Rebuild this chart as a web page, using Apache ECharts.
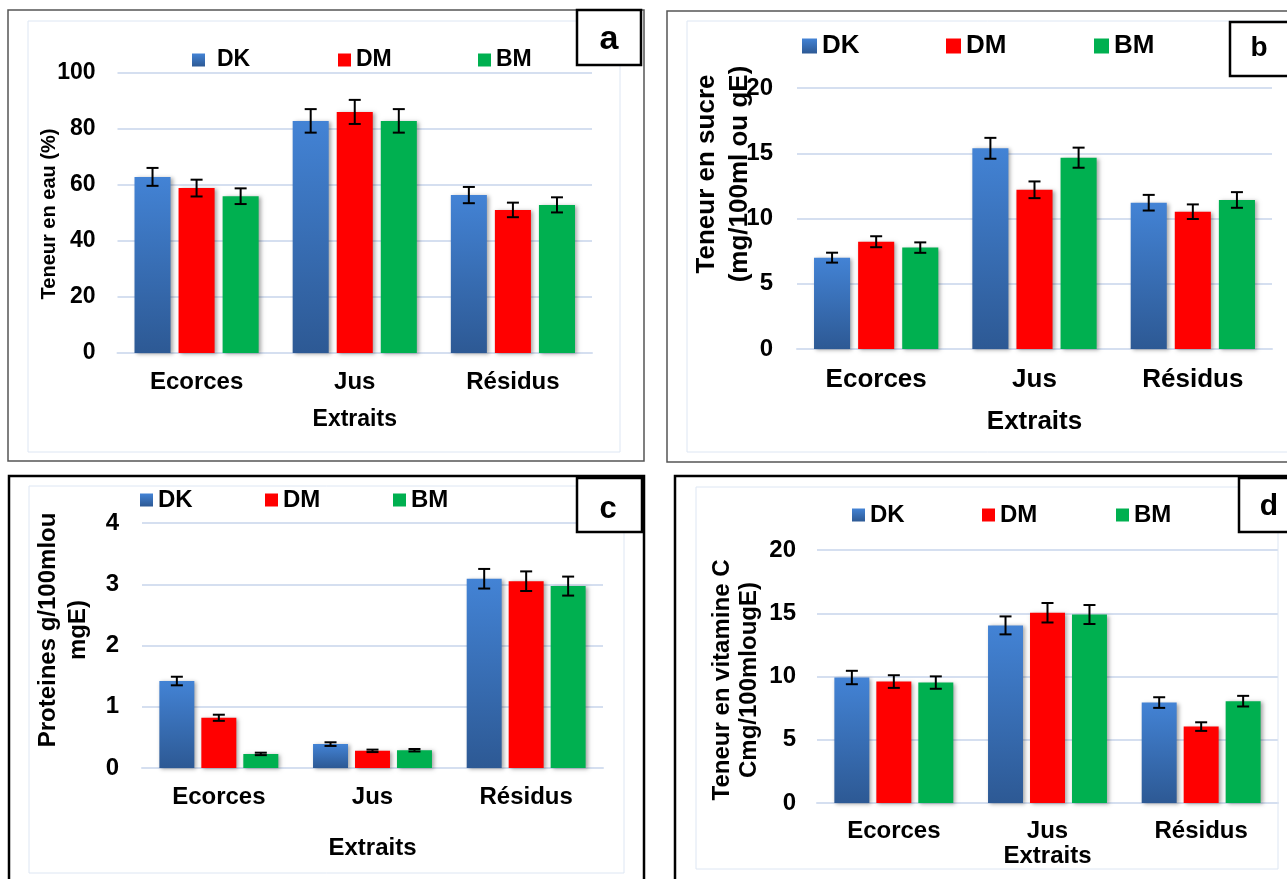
<!DOCTYPE html>
<html>
<head>
<meta charset="utf-8">
<script src="https://cdn.jsdelivr.net/npm/echarts@6/dist/echarts.min.js"></script>
<style>
html,body{margin:0;padding:0;background:#fff;}
#chart{width:1287px;height:879px;}
</style>
</head>
<body>
<div id="chart"></div>
<script>
// ---------- data ----------
const categories = ['Ecorces', 'Jus', 'Résidus'];
const seriesNames = ['DK', 'DM', 'BM'];

// (a) Teneur en eau (%)
const eauDK = [62.9, 82.9, 56.4];
const eauDKErr = [3.2, 4.2, 2.9];
const eauDM = [58.9, 86.1, 51.1];
const eauDMErr = [3.0, 4.3, 2.6];
const eauBM = [56.0, 82.9, 52.9];
const eauBMErr = [2.8, 4.2, 2.7];
const eauTicks = [0, 20, 40, 60, 80, 100];

// (b) Teneur en sucre
const sucreDK = [7.0, 15.38, 11.21];
const sucreDKErr = [0.38, 0.8, 0.6];
const sucreDM = [8.22, 12.2, 10.52];
const sucreDMErr = [0.42, 0.64, 0.56];
const sucreBM = [7.77, 14.66, 11.42];
const sucreBMErr = [0.4, 0.77, 0.6];
const sucreTicks = [0, 5, 10, 15, 20];

// (c) Proteines
const protDK = [1.42, 0.39, 3.09];
const protDKErr = [0.07, 0.03, 0.16];
const protDM = [0.82, 0.28, 3.05];
const protDMErr = [0.05, 0.02, 0.16];
const protBM = [0.23, 0.29, 2.97];
const protBMErr = [0.02, 0.02, 0.155];
const protTicks = [0, 1, 2, 3, 4];

// (d) Vitamine C
const vitDK = [9.92, 14.04, 7.94];
const vitDKErr = [0.53, 0.71, 0.42];
const vitDM = [9.6, 15.04, 6.04];
const vitDMErr = [0.5, 0.77, 0.34];
const vitBM = [9.52, 14.9, 8.05];
const vitBMErr = [0.49, 0.75, 0.42];
const vitTicks = [0, 5, 10, 15, 20];

// ---------- styling ----------
const FONT = '"Liberation Sans", Arial, sans-serif';
const blueGrad = new echarts.graphic.LinearGradient(0, 0, 0, 1, [
  { offset: 0, color: '#4383d5' },
  { offset: 1, color: '#2d5994' }
]);
const colors = [blueGrad, '#ff0000', '#00b050'];

const panels = [
  { vals: [eauDK, eauDM, eauBM], errs: [eauDKErr, eauDMErr, eauBMErr], ticks: eauTicks,
    grid: { left: 117.5, top: 73, width: 474.5, height: 280 },
    cGap: 0.215, bGap: 0.222, tickFont: 23, tickMargin: 22, labFont: 24, labMargin: 17, nameFont: 23, nameGap: 55 },
  { vals: [sucreDK, sucreDM, sucreBM], errs: [sucreDKErr, sucreDMErr, sucreBMErr], ticks: sucreTicks,
    grid: { left: 797, top: 88, width: 475, height: 261 },
    cGap: 0.215, bGap: 0.222, tickFont: 24, tickMargin: 24, labFont: 26, labMargin: 18, nameFont: 26, nameGap: 60 },
  { vals: [protDK, protDM, protBM], errs: [protDKErr, protDMErr, protBMErr], ticks: protTicks,
    grid: { left: 142, top: 523, width: 461, height: 245 },
    cGap: 0.226, bGap: 0.2, tickFont: 24, tickMargin: 23, labFont: 24, labMargin: 17, nameFont: 24, nameGap: 68 },
  { vals: [vitDK, vitDM, vitBM], errs: [vitDKErr, vitDMErr, vitBMErr], ticks: vitTicks,
    grid: { left: 817, top: 550, width: 461, height: 253 },
    cGap: 0.226, bGap: 0.2, tickFont: 24, tickMargin: 21, labFont: 24, labMargin: 16, nameFont: 24, nameGap: 36 }
];

const grids = [], xAxes = [], yAxes = [], series = [];
panels.forEach((p, gi) => {
  grids.push(Object.assign({ containLabel: false }, p.grid));
  xAxes.push({
    type: 'category', gridIndex: gi, data: categories,
    name: 'Extraits', nameLocation: 'middle', nameGap: p.nameGap,
    nameTextStyle: { fontFamily: FONT, fontWeight: 'bold', fontSize: p.nameFont, color: '#000' },
    axisLine: { show: true, lineStyle: { color: '#d5dff0', width: 2 } },
    axisTick: { show: false },
    axisLabel: { fontFamily: FONT, fontWeight: 'bold', fontSize: p.labFont, color: '#000', margin: p.labMargin }
  });
  const t = p.ticks;
  yAxes.push({
    type: 'value', gridIndex: gi, min: t[0], max: t[t.length - 1], interval: t[1] - t[0],
    axisLine: { show: false }, axisTick: { show: false },
    splitLine: { lineStyle: { color: '#d5dff0', width: 2 } },
    axisLabel: { fontFamily: FONT, fontWeight: 'bold', fontSize: p.tickFont, color: '#000', margin: p.tickMargin }
  });
  seriesNames.forEach((nm, si) => {
    series.push({
      type: 'bar', name: nm, xAxisIndex: gi, yAxisIndex: gi,
      data: p.vals[si], barGap: (p.bGap * 100) + '%', barCategoryGap: (p.cGap * 100) + '%',
      itemStyle: { color: colors[si], shadowBlur: 4, shadowColor: 'rgba(0,0,0,0.35)', shadowOffsetX: 2, shadowOffsetY: 1 },
      emphasis: { disabled: true }
    });
  });
  const errData = [];
  seriesNames.forEach((nm, si) => {
    p.vals[si].forEach((v, ci) => {
      errData.push([ci, v - p.errs[si][ci], v + p.errs[si][ci], si]);
    });
  });
  series.push({
    type: 'custom', name: 'err' + gi, xAxisIndex: gi, yAxisIndex: gi, z: 10,
    silent: true, data: errData,
    renderItem: function (params, api) {
      const ci = api.value(0), lo = api.value(1), hi = api.value(2), k = api.value(3);
      const band = api.size([1, 0])[0];
      const n = 3;
      const bw = band * (1 - p.cGap) / (n + (n - 1) * p.bGap);
      const total = n * bw + (n - 1) * p.bGap * bw;
      const cx = api.coord([ci, 0])[0] - total / 2 + bw / 2 + k * bw * (1 + p.bGap);
      const yLo = api.coord([ci, lo])[1], yHi = api.coord([ci, hi])[1];
      const cap = 6;
      const st = { stroke: '#000', lineWidth: 2 };
      return {
        type: 'group', children: [
          { type: 'line', shape: { x1: cx, y1: yLo, x2: cx, y2: yHi }, style: st },
          { type: 'line', shape: { x1: cx - cap, y1: yLo, x2: cx + cap, y2: yLo }, style: st },
          { type: 'line', shape: { x1: cx - cap, y1: yHi, x2: cx + cap, y2: yHi }, style: st }
        ]
      };
    }
  });
});

// legends (one per item, placed as in the figure)
const legendSpec = [
  { font: 23, icon: 13, cy: 60, xs: [192, 338, 478] },
  { font: 26, icon: 15, cy: 46, xs: [802, 946, 1094] },
  { font: 24, icon: 13, cy: 500, xs: [140, 265, 393] },
  { font: 24, icon: 13, cy: 515, xs: [852, 982, 1116] }
];
const legends = [];
legendSpec.forEach((L, li) => {
  seriesNames.forEach((nm, si) => {
    legends.push({
      data: [nm], left: L.xs[si], top: L.cy - L.font / 2, padding: 0,
      icon: 'rect', itemWidth: L.icon, itemHeight: L.icon,
      selectedMode: false,
      textStyle: { fontFamily: FONT, fontWeight: 'bold', fontSize: L.font, lineHeight: L.font, color: '#000',
        padding: (li === 0 && si === 0) ? [0, 0, 0, 7] : 0 }
    });
  });
});

function vtext(txt, x, y, size) {
  return { type: 'text', x: x, y: y, rotation: Math.PI / 2, z: 20,
    style: { text: txt, fontFamily: FONT, fontWeight: 'bold', fontSize: size, fill: '#000', textAlign: 'center', textVerticalAlign: 'middle' } };
}
function box(x, y, w, h, stroke, lw, fill) {
  return { type: 'rect', shape: { x: x, y: y, width: w, height: h }, z: 1,
    style: { fill: fill || 'none', stroke: stroke, lineWidth: lw } };
}
function letter(txt, x, y, size) {
  return { type: 'text', x: x, y: y, z: 31,
    style: { text: txt, fontFamily: FONT, fontWeight: 'bold', fontSize: size, fill: '#000', textAlign: 'center', textVerticalAlign: 'middle' } };
}

const graphics = [
  // outer panel borders
  box(8, 10, 636, 451, '#555', 1.5),
  box(667, 11, 630, 451, '#555', 1.5),
  box(9, 476, 635, 420, '#000', 2.5),
  box(675, 476, 630, 420, '#000', 2.5),
  // inner chart-area frames
  box(28, 21, 592, 431, '#dde6f3', 1),
  box(687, 21, 610, 431, '#dde6f3', 1),
  box(29, 486, 595, 387, '#dde6f3', 1),
  box(696, 487, 582, 382, '#dde6f3', 1),
  // letter boxes
  Object.assign(box(577, 10, 64, 55, '#000', 2.5, '#fff'), { z: 30 }),
  Object.assign(box(1230, 22, 70, 54, '#000', 2.5, '#fff'), { z: 30 }),
  Object.assign(box(577, 478, 65, 54, '#000', 2.5, '#fff'), { z: 30 }),
  Object.assign(box(1239, 478, 60, 54, '#000', 2.5, '#fff'), { z: 30 }),
  letter('a', 609, 40, 34),
  letter('b', 1259, 48, 28),
  letter('c', 608, 509, 31),
  letter('d', 1269, 507, 30),
  // y-axis names
  vtext('Teneur en eau (%)', 49, 214, 20),
  vtext('Teneur en sucre', 707, 174, 26),
  vtext('(mg/100ml ou gE)', 740, 174, 26),
  vtext('Proteines g/100mlou', 48, 630, 24),
  vtext('mgE)', 78, 630, 24),
  vtext('Teneur en vitamine C', 722, 680, 24),
  vtext('Cmg/100mlougE)', 749, 680, 24)
];

const chart = echarts.init(document.getElementById('chart'), null, { renderer: 'canvas' });
chart.setOption({
  animation: false,
  backgroundColor: '#fff',
  grid: grids, xAxis: xAxes, yAxis: yAxes, series: series,
  legend: legends,
  graphic: graphics
});
</script>
</body>
</html>
